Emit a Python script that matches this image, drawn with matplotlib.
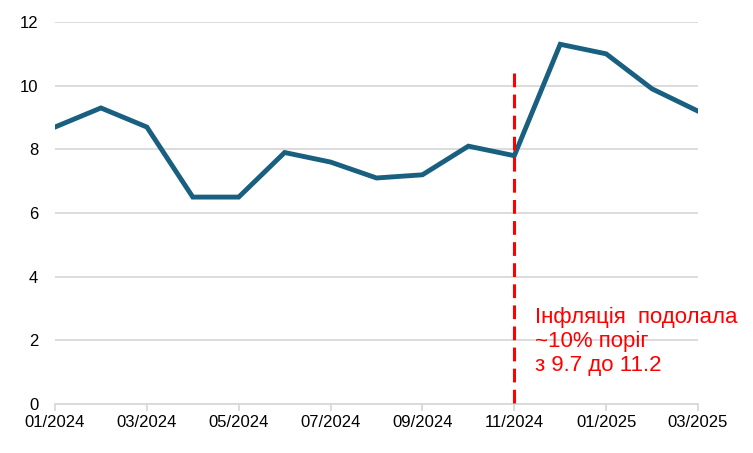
import matplotlib
matplotlib.use("Agg")
import matplotlib.pyplot as plt

months = ["01/2024", "02/2024", "03/2024", "04/2024", "05/2024", "06/2024", "07/2024",
          "08/2024", "09/2024", "10/2024", "11/2024", "12/2024", "01/2025", "02/2025", "03/2025"]
inflation = [8.7, 9.3, 8.7, 6.5, 6.5, 7.9, 7.6, 7.1, 7.2, 8.1, 7.8, 11.3, 11.0, 9.9, 9.2]
marker_month = "11/2024"
marker_top = 10.4
annotation = "Інфляція  подолала\n~10% поріг\nз 9.7 до 11.2"
yticks = [0, 2, 4, 6, 8, 10, 12]

plt.rcParams['font.family'] = ['Liberation Sans', 'DejaVu Sans']

fig = plt.figure(figsize=(7.53, 4.53), dpi=100)
ax = fig.add_axes([55/753, 49/453, 643/753, 382/453])

x = list(range(len(months)))
ax.plot(x, inflation, color="#195f80", linewidth=3.5, solid_joinstyle="miter", zorder=3)

xm = months.index(marker_month)
ax.plot([xm, xm], [marker_top, 0], color="#ff0000", linewidth=2.2, linestyle=(0, (4.5, 2.4)), zorder=4)
ax.text(xm + 0.45, 1.97, annotation, color="#ff0000", fontsize=16, va="center", ha="left",
        linespacing=1.2)

ax.set_xlim(0, len(months) - 1)
ax.set_ylim(0, 12)
ax.set_yticks(yticks)
ax.set_yticklabels([str(v) for v in yticks])
ax.set_xticks(x[::2])
ax.set_xticklabels(months[::2])

for v in yticks:
    ax.axhline(v, color="#d9d9d9", linewidth=1.3, zorder=1)

for s in ["left", "right", "top"]:
    ax.spines[s].set_visible(False)
ax.spines["bottom"].set_color("#d9d9d9")
ax.spines["bottom"].set_linewidth(1.3)
ax.spines["bottom"].set_zorder(1)
ax.tick_params(axis="y", length=0, pad=12, labelsize=12, labelcolor="#000000")
ax.tick_params(axis="x", length=5, width=1.3, color="#d9d9d9", pad=3, labelsize=12, labelcolor="#000000")

fig.savefig("out.png", dpi=100)
